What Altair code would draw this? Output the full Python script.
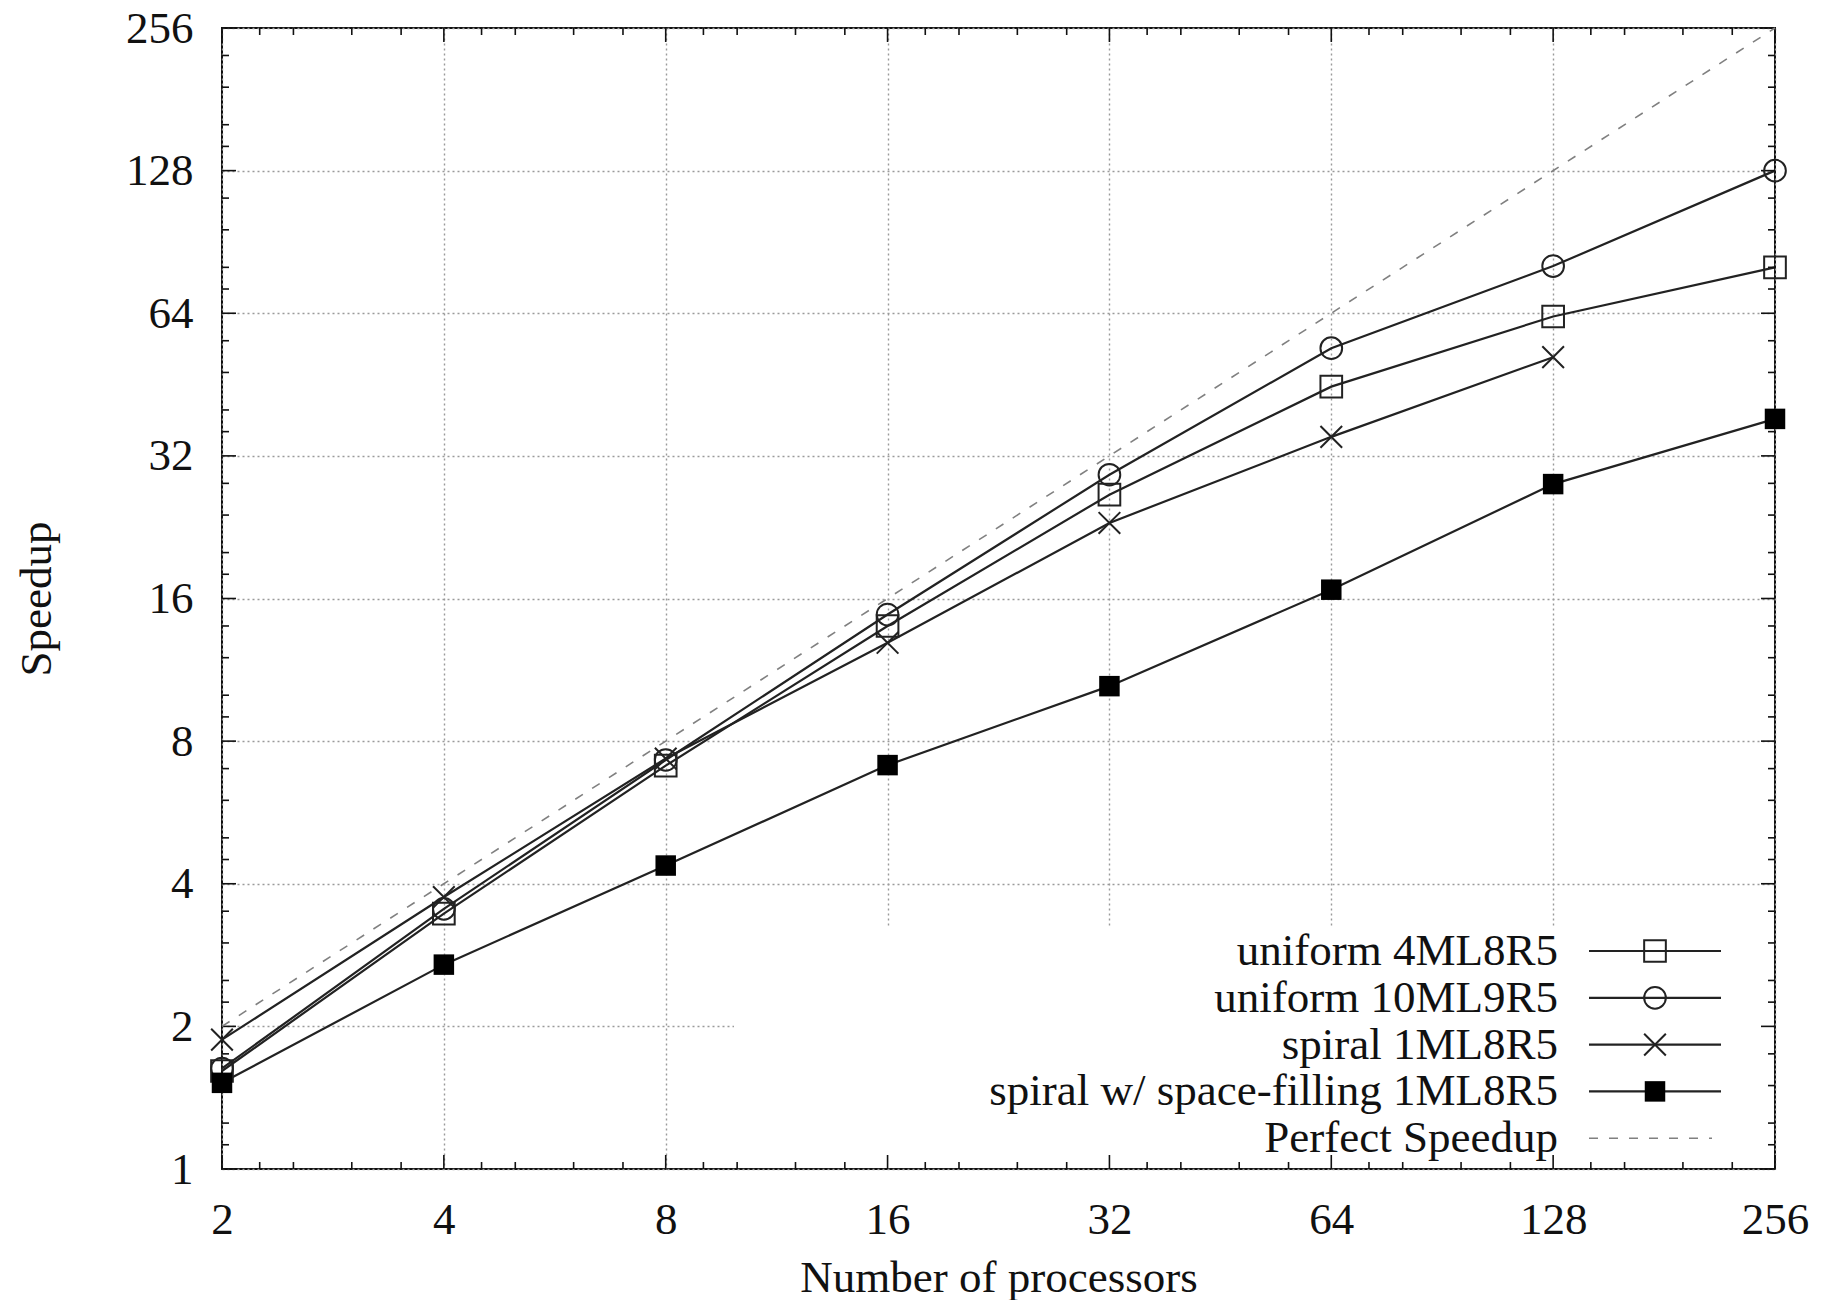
import altair as alt
import pandas as pd

# ---------------- data ----------------
procs = [2, 4, 8, 16, 32, 64, 128, 256]
speedup_uniform_4ml8r5 = [1.61, 3.46, 7.1, 14.0, 26.5, 44.8, 63.0, 80.0]
speedup_uniform_10ml9r5 = [1.63, 3.54, 7.3, 14.8, 29.2, 54.0, 80.5, 128.0]
speedup_spiral_1ml8r5 = [1.875, 3.75, 7.35, 12.9, 23.1, 35.1, 51.7]
speedup_spiral_sf_1ml8r5 = [1.52, 2.7, 4.37, 7.12, 10.45, 16.7, 27.9, 38.3]
perfect_procs = [2, 256]
perfect_speedup = [2, 256]

series_names = [
    "uniform 4ML8R5",
    "uniform 10ML9R5",
    "spiral 1ML8R5",
    "spiral w/ space-filling 1ML8R5",
    "Perfect Speedup",
]
series_shapes = ["square", "circle", "M-1,-1L1,1M1,-1L-1,1", "square", ""]
series_filled = [False, False, False, True, False]

x_tick_values = [2, 4, 8, 16, 32, 64, 128, 256]
y_tick_values = [1, 2, 4, 8, 16, 32, 64, 128, 256]
minor_factors = [1.125, 1.25, 1.5, 1.75]

# ---------------- tables ----------------
series_values = [
    speedup_uniform_4ml8r5,
    speedup_uniform_10ml9r5,
    speedup_spiral_1ml8r5,
    speedup_spiral_sf_1ml8r5,
]
rows = []
for i, vals in enumerate(series_values):
    for p, v in zip(procs, vals):
        rows.append({"series": series_names[i], "procs": p, "speedup": v,
                     "shape": series_shapes[i], "filled": series_filled[i]})
df = pd.DataFrame(rows)
perfect_df = pd.DataFrame({"procs": perfect_procs, "speedup": perfect_speedup})

x_major = pd.DataFrame({"v": x_tick_values})
y_major = pd.DataFrame({"v": y_tick_values})
x_minor = pd.DataFrame({"v": [b * f for b in x_tick_values[:-1] for f in minor_factors]})
y_minor = pd.DataFrame({"v": [b * f for b in y_tick_values[:-1] for f in minor_factors]})

legend_df = pd.DataFrame({
    "name": series_names,
    "shape": series_shapes,
    "filled": series_filled,
    "row": list(range(len(series_names))),
})

# ---------------- layout ----------------
W, H = 1553, 1141
SERIF = "Liberation Serif"
FS = 45
INK = "#111111"
LINE = "#222222"

xscale = alt.Scale(type="log", base=2, domain=[2, 256], nice=False)
yscale = alt.Scale(type="log", base=2, domain=[1, 256], nice=False)

x_axis = alt.Axis(
    values=x_tick_values, format="d", title="Number of processors",
    labelFont=SERIF, labelFontSize=FS, labelColor=INK, labelPadding=50,
    labelBaseline="middle", labelOverlap=False, labelFlush=False, labelBound=False,
    ticks=False, tickSize=0, domain=False,
    grid=True, gridColor="#9a9a9a", gridDash=[2, 3], gridWidth=1.4,
    titleFont=SERIF, titleFontSize=FS, titleFontWeight="normal", titleColor=INK,
    titleX=W / 2, titleY=108, titleBaseline="middle", titleAlign="center",
)
y_axis = alt.Axis(
    values=y_tick_values, format="d", title="Speedup",
    labelFont=SERIF, labelFontSize=FS, labelColor=INK, labelPadding=29,
    labelBaseline="middle", labelOverlap=False, labelFlush=False, labelBound=False,
    ticks=False, tickSize=0, domain=False,
    grid=True, gridColor="#9a9a9a", gridDash=[2, 3], gridWidth=1.4,
    titleFont=SERIF, titleFontSize=FS, titleFontWeight="normal", titleColor=INK,
    titleX=-186, titleY=H / 2, titleAngle=270, titleBaseline="middle", titleAlign="center",
)

# lines of data
lines = alt.Chart(df).mark_line(color=LINE, strokeWidth=2.2).encode(
    x=alt.X("procs:Q", scale=xscale, axis=x_axis),
    y=alt.Y("speedup:Q", scale=yscale, axis=y_axis),
    detail="series:N",
)

# blank key area (gnuplot key box hides grid there)
key_blank = alt.Chart(pd.DataFrame({"k": [0]})).mark_rect(fill="white", stroke=None).encode(
    x=alt.value(512), x2=alt.value(W - 2), y=alt.value(899), y2=alt.value(H - 2)
)

perfect = alt.Chart(perfect_df).mark_line(color="#808080", strokeWidth=1.6,
                                          strokeDash=[9, 11]).encode(
    x=alt.X("procs:Q", scale=xscale),
    y=alt.Y("speedup:Q", scale=yscale),
)

open_pts = alt.Chart(df).transform_filter("!datum.filled").mark_point(
    filled=False, color=LINE, strokeWidth=2, size=470, opacity=1
).encode(
    x=alt.X("procs:Q", scale=xscale),
    y=alt.Y("speedup:Q", scale=yscale),
    shape=alt.Shape("shape:N", scale=None),
)
filled_pts = alt.Chart(df).transform_filter("datum.filled").mark_point(
    filled=True, color="#000000", size=420, opacity=1
).encode(
    x=alt.X("procs:Q", scale=xscale),
    y=alt.Y("speedup:Q", scale=yscale),
    shape=alt.Shape("shape:N", scale=None),
)

# inward ticks (mirrored on all four sides)
def xticks(data, length):
    bottom = alt.Chart(data).mark_rule(color=INK, strokeWidth=1.6).encode(
        x=alt.X("v:Q", scale=xscale), y=alt.value(H), y2=alt.value(H - length))
    top = alt.Chart(data).mark_rule(color=INK, strokeWidth=1.6).encode(
        x=alt.X("v:Q", scale=xscale), y=alt.value(0), y2=alt.value(length))
    return [bottom, top]

def yticks(data, length):
    left = alt.Chart(data).mark_rule(color=INK, strokeWidth=1.6).encode(
        y=alt.Y("v:Q", scale=yscale), x=alt.value(0), x2=alt.value(length))
    right = alt.Chart(data).mark_rule(color=INK, strokeWidth=1.6).encode(
        y=alt.Y("v:Q", scale=yscale), x=alt.value(W), x2=alt.value(W - length))
    return [left, right]

tick_layers = xticks(x_major, 14) + xticks(x_minor, 7) + yticks(y_major, 14) + yticks(y_minor, 7)

main = alt.layer(lines, key_blank, *tick_layers, perfect, open_pts, filled_pts)

# ---------------- key (legend) ----------------
ROW0, ROWSTEP = 923, 46.8
leg = alt.Chart(legend_df).transform_calculate(py=f"{ROW0} + datum.row * {ROWSTEP}")
leg_text = leg.mark_text(align="right", baseline="middle", font=SERIF, fontSize=FS,
                         color=INK).encode(
    x=alt.value(1336), y=alt.Y("py:Q", scale=None), text="name:N")
leg_solid = leg.transform_filter("datum.shape != ''").mark_rule(
    color=LINE, strokeWidth=2.2).encode(
    x=alt.value(1367), x2=alt.value(1499), y=alt.Y("py:Q", scale=None))
leg_dash = leg.transform_filter("datum.shape == ''").mark_rule(
    color="#808080", strokeWidth=1.6, strokeDash=[9, 11]).encode(
    x=alt.value(1367), x2=alt.value(1490), y=alt.Y("py:Q", scale=None))
leg_open = leg.transform_filter("datum.shape != '' && !datum.filled").mark_point(
    filled=False, color=LINE, strokeWidth=2, size=470, opacity=1).encode(
    x=alt.value(1433), y=alt.Y("py:Q", scale=None),
    shape=alt.Shape("shape:N", scale=None))
leg_filled = leg.transform_filter("datum.filled").mark_point(
    filled=True, color="#000000", size=420, opacity=1).encode(
    x=alt.value(1433), y=alt.Y("py:Q", scale=None),
    shape=alt.Shape("shape:N", scale=None))

legend_layer = alt.layer(leg_text, leg_solid, leg_dash, leg_open, leg_filled)

chart = alt.layer(main, legend_layer).resolve_scale(
    x="independent", y="independent"
).properties(
    width=W, height=H,
    autosize=alt.AutoSizeParams(type="none"),
    padding={"left": 214, "top": 20, "right": 40, "bottom": 131},
    background="white",
).configure_view(stroke=INK, strokeWidth=2)

chart.save("out.html", embed_options={"renderer": "svg", "actions": False})
